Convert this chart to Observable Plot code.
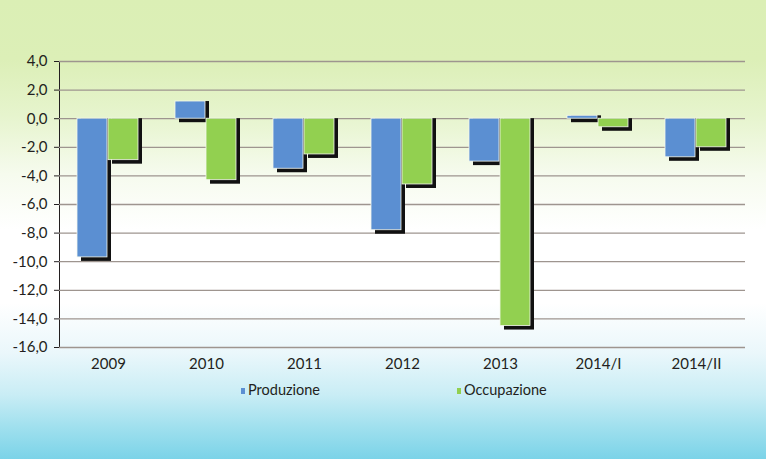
<!DOCTYPE html>
<html>
<head>
<meta charset="utf-8">
<script src="https://cdn.jsdelivr.net/npm/d3@7"></script>
<script src="https://cdn.jsdelivr.net/npm/@observablehq/plot@0.6"></script>
<style>
  html, body { margin: 0; padding: 0; }
  body {
    width: 766px; height: 459px; overflow: hidden;
    font-family: Lato, "Open Sans", sans-serif;
    background: linear-gradient(to bottom, #dbefb5 0%, #dcefb7 13%, #e6f4cd 25%, #f6fbee 38%, #ffffff 50%, #ffffff 66%, #eaf7fb 77%, #c9edf5 86%, #a0e0ee 93%, #7bd3e8 100%);
  }
  #wrap { position: relative; width: 766px; height: 459px; }
  #legend { position: absolute; left: 0; top: 381px; width: 766px; height: 20px; font-size: 14.5px; color: #231f20; }
  .item { position: absolute; top: 0; white-space: nowrap; line-height: 18px; }
  .sw { display: inline-block; width: 4px; height: 6px; margin-right: 3px; vertical-align: 1px; }
</style>
</head>
<body>
<div id="wrap"><div id="chart"></div><div id="legend"></div></div>
<script>
const categories = ["2009", "2010", "2011", "2012", "2013", "2014/I", "2014/II"];
const produzione = [-9.7, 1.2, -3.5, -7.8, -3.0, 0.2, -2.7];
const occupazione = [-2.9, -4.3, -2.5, -4.6, -14.5, -0.6, -2.0];
const series = ["Produzione", "Occupazione"];
const colors = ["#5b8fd2", "#92d050"];
const yTicks = [4, 2, 0, -2, -4, -6, -8, -10, -12, -14, -16];

const rows = [];
categories.forEach((c, i) => {
  rows.push({cat: c, series: series[0], value: produzione[i]});
  rows.push({cat: c, series: series[1], value: occupazione[i]});
});

const fmt = d => d.toFixed(1).replace(".", ",");

const chart = Plot.plot({
  width: 766,
  height: 380,
  marginTop: 61,
  marginBottom: 33,
  marginLeft: 58,
  marginRight: 20,
  style: {background: "transparent", fontFamily: "Lato, 'Open Sans', sans-serif", fontSize: "15px", color: "#231f20", overflow: "visible"},
  fx: {domain: categories, padding: 0, label: null, axis: "bottom", tickSize: 0, tickPadding: 11},
  x: {domain: series, paddingInner: 0.03, paddingOuter: 0.55, axis: null},
  y: {domain: [-16, 4], ticks: yTicks, tickFormat: fmt, label: null, tickSize: 5, tickPadding: 7, line: true},
  color: {domain: series, range: colors},
  marks: [
    Plot.gridY(yTicks, {stroke: "#9e958f", strokeOpacity: 1, strokeWidth: 1.3}),
    Plot.barY(rows, {fx: "cat", x: "series", y: "value", fill: "#111", dx: 4, dy: 4, insetTop: -4}),
    Plot.barY(rows, {fx: "cat", x: "series", y: "value", fill: "series", stroke: "#f4f8ee", strokeWidth: 0.8})
  ]
});
document.getElementById("chart").appendChild(chart);

chart.querySelectorAll("[aria-label='y-axis tick'], [aria-label='y-axis line'], [aria-label='frame']").forEach(g => g.setAttribute("stroke", "#9e958f"));

const legend = document.getElementById("legend");
const lx = [241, 457];
series.forEach((s, i) => {
  const it = document.createElement("div");
  it.className = "item";
  it.style.left = lx[i] + "px";
  it.innerHTML = `<span class="sw" style="background:${colors[i]}"></span>${s}`;
  legend.appendChild(it);
});
</script>
</body>
</html>
